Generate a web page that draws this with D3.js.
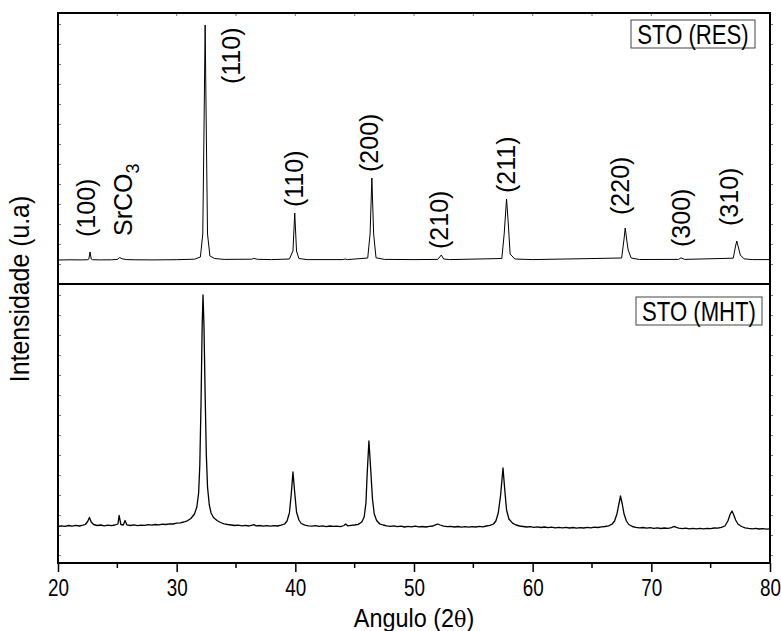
<!DOCTYPE html>
<html>
<head>
<meta charset="utf-8">
<script src="https://cdn.jsdelivr.net/npm/d3@7"></script>
<style>
html,body{margin:0;padding:0;background:#fff;}
svg{display:block;}
</style>
</head>
<body>
<svg id="chart" width="781" height="631"></svg>
<script>
// ---------------- DATA ----------------
const xTicks = [20, 30, 40, 50, 60, 70, 80];
const xMinorTicks = [25, 35, 45, 55, 65, 75];

// STO (RES) pattern: 2theta and intensity (a.u.)
const resAngle = [20.0,21.0,22.0,22.5,22.6,22.7,22.8,22.9,23.5,24.5,25.0,25.2,25.4,25.8,26.5,28.0,30.0,31.5,32.0,32.2,32.3,32.4,32.5,32.6,32.8,33.2,34.0,36.3,36.5,36.8,38.0,39.5,39.8,39.95,40.1,40.3,41.0,44.0,44.2,44.4,46.1,46.3,46.45,46.6,46.8,47.5,50.0,52.0,52.3,52.5,53.0,57.4,57.6,57.8,57.95,58.1,58.5,60.0,67.5,67.7,67.8,67.95,68.05,68.3,69.0,72.3,72.5,72.8,76.9,77.1,77.2,77.35,77.5,77.8,78.5,80.0];
const resIntensity = [240,242,241,243,250,320,250,243,241,242,246,265,252,244,242,241,243,248,270,500,1500,2590,1500,500,280,255,246,248,256,247,244,250,330,710,330,255,244,244,250,244,260,500,1060,500,262,246,244,246,290,250,244,255,500,850,600,300,250,244,260,450,560,420,340,260,245,246,262,246,258,380,430,360,290,252,244,244];

// STO (MHT) pattern: 2theta and intensity (a.u.)
const mhtAngle = [20.0,20.3,20.6,20.9,21.2,21.5,21.8,22.1,22.3,22.5,22.65,22.8,23.0,23.3,23.6,23.9,24.2,24.5,24.8,25.05,25.15,25.3,25.5,25.65,25.8,26.1,26.4,26.7,27.0,27.3,27.6,27.9,28.2,28.5,28.8,29.1,29.4,29.7,30.0,30.3,30.6,30.9,31.2,31.5,31.7,31.85,31.95,32.05,32.15,32.22,32.3,32.4,32.5,32.6,32.75,32.9,33.1,33.4,33.7,34.0,34.3,34.6,34.9,35.2,35.5,35.8,36.1,36.3,36.5,36.7,37.0,37.3,37.6,37.9,38.2,38.5,38.8,39.1,39.3,39.5,39.65,39.8,39.95,40.1,40.3,40.5,40.8,41.1,41.4,41.7,42.0,42.3,42.6,42.9,43.2,43.5,43.8,44.1,44.25,44.4,44.7,45.0,45.3,45.6,45.8,45.95,46.05,46.2,46.35,46.5,46.65,46.85,47.1,47.4,47.7,48.0,48.3,48.6,48.9,49.2,49.5,49.8,50.1,50.4,50.7,51.0,51.3,51.6,51.8,52.0,52.2,52.5,52.8,53.1,53.4,53.7,54.0,54.3,54.6,54.9,55.2,55.5,55.8,56.1,56.4,56.7,56.9,57.1,57.3,57.5,57.65,57.8,58.0,58.3,58.6,58.9,59.2,59.5,59.8,60.1,60.4,60.7,61.0,61.3,61.6,61.9,62.2,62.5,62.8,63.1,63.4,63.7,64.0,64.3,64.6,64.9,65.2,65.5,65.8,66.1,66.4,66.7,66.9,67.1,67.25,67.4,67.55,67.7,67.9,68.1,68.4,68.7,69.0,69.3,69.6,69.9,70.2,70.5,70.8,71.1,71.4,71.7,71.9,72.05,72.3,72.6,72.9,73.2,73.5,73.8,74.1,74.4,74.7,75.0,75.3,75.6,75.9,76.2,76.45,76.65,76.8,76.95,77.1,77.3,77.6,77.9,78.2,78.5,78.8,79.1,79.4,79.7,80.0];
const mhtIntensity = [285,292,287,295,289,296,290,298,305,335,375,330,305,295,300,292,298,293,300,310,395,305,300,345,302,295,301,294,299,296,303,298,305,301,309,305,312,310,318,322,330,342,365,410,480,620,900,1500,2300,2600,2300,1600,1000,680,500,420,375,345,325,312,305,300,295,298,292,296,290,297,303,292,295,289,293,288,294,290,298,310,340,420,600,830,620,430,350,315,298,292,288,294,286,291,284,290,286,289,284,295,310,292,297,300,306,330,380,520,800,1140,860,560,410,345,312,300,292,287,291,283,288,280,286,282,289,281,285,280,287,290,302,310,300,288,283,287,280,285,279,284,278,283,280,286,282,290,296,310,340,420,600,870,650,450,360,318,300,290,285,280,284,277,282,275,280,273,278,272,277,271,276,270,275,269,274,270,276,271,278,275,282,285,292,310,340,410,500,590,510,410,340,305,285,276,271,275,268,273,266,271,265,270,267,273,285,280,268,263,268,261,266,262,267,261,266,263,270,268,276,290,340,410,440,400,350,310,285,272,266,262,267,260,264,259,262];

// peak annotations: text, 2theta of label centre, pixel-free intensity-like position handled below
const resLabels = [
  {text: "(100)", angle: 22.44, y: 237},
  {text: "SrCO", sub: "3", angle: 25.6, y: 236},
  {text: "(110)", angle: 34.65, y: 84},
  {text: "(110)", angle: 39.95, y: 207},
  {text: "(200)", angle: 46.26, y: 172},
  {text: "(210)", angle: 52.15, y: 249},
  {text: "(211)", angle: 57.87, y: 193},
  {text: "(220)", angle: 67.47, y: 215},
  {text: "(300)", angle: 72.6, y: 247},
  {text: "(310)", angle: 76.65, y: 226}
];
const seriesNames = ["STO (RES)", "STO (MHT)"];
const xTitle = ["Angulo (2", "θ", ")"];
const yTitle = "Intensidade (u.a)";

// ---------------- LAYOUT ----------------
const L = 58, R = 770, T = 13, MID = 284, B = 563;
const svg = d3.select("#chart");
const x = d3.scaleLinear().domain([20, 80]).range([L, R]);
const yTop = d3.scaleLinear().domain([0, 2710]).range([MID, T]);
const yBot = d3.scaleLinear().domain([-80, 2710]).range([B, MID]);

const font = "'Liberation Sans', Arial, Helvetica, sans-serif";

// data lines
function drawSeries(ang, inten, y, w) {
  const pts = ang.map((a, i) => [a, inten[i]]);
  svg.append("path")
    .datum(pts)
    .attr("fill", "none")
    .attr("stroke", "#000")
    .attr("stroke-width", w)
    .attr("stroke-linejoin", "round")
    .attr("d", d3.line().x(d => x(d[0])).y(d => y(d[1])));
}
drawSeries(resAngle, resIntensity, yTop, 1);
drawSeries(mhtAngle, mhtIntensity, yBot, 1.3);

// small frame ticks
const tickCol = "#777";
svg.append("g").selectAll("line").data(xTicks.concat(xMinorTicks)).join("line")
  .attr("x1", d => x(d)).attr("x2", d => x(d))
  .attr("y1", T).attr("y2", T + 3)
  .attr("stroke", tickCol).attr("stroke-width", 1);
[[yTop, yTop.ticks(14)], [yBot, yBot.ticks(14)]].forEach(([y, tv]) => {
  const v = tv.filter(d => y(d) < y.range()[0] - 2 && y(d) > y.range()[1] + 2);
  svg.append("g").selectAll("line").data(v).join("line")
    .attr("x1", L).attr("x2", L + 3)
    .attr("y1", d => Math.round(y(d)) + 0.5).attr("y2", d => Math.round(y(d)) + 0.5)
    .attr("stroke", tickCol).attr("stroke-width", 1);
  svg.append("g").selectAll("line").data(v).join("line")
    .attr("x1", R).attr("x2", R + 3)
    .attr("y1", d => Math.round(y(d)) + 0.5).attr("y2", d => Math.round(y(d)) + 0.5)
    .attr("stroke", tickCol).attr("stroke-width", 1);
});

// frame
svg.append("rect").attr("x", L).attr("y", T).attr("width", R - L).attr("height", B - T)
  .attr("fill", "none").attr("stroke", "#000").attr("stroke-width", 2);
svg.append("line").attr("x1", L).attr("x2", R).attr("y1", MID).attr("y2", MID)
  .attr("stroke", "#000").attr("stroke-width", 2);

// bottom axis
const xAxis = svg.append("g").attr("transform", `translate(0,${B})`)
  .call(d3.axisBottom(x).tickValues(xTicks).tickSize(9).tickPadding(8).tickFormat(d3.format("d")));
xAxis.select(".domain").remove();
xAxis.selectAll(".tick line").attr("stroke", "#000").attr("stroke-width", 1.5);
xAxis.selectAll(".tick text")
  .attr("font-family", font).attr("font-size", 23).attr("fill", "#000")
  .attr("transform", "scale(0.82,1)")
  .attr("x", 0);
svg.append("g").selectAll("line").data(xMinorTicks).join("line")
  .attr("x1", d => x(d)).attr("x2", d => x(d))
  .attr("y1", B).attr("y2", B + 5)
  .attr("stroke", "#000").attr("stroke-width", 1.5);

// axis titles
const xt = svg.append("text")
  .attr("transform", `translate(${(L + R) / 2},627) scale(0.9,1)`)
  .attr("text-anchor", "middle").attr("font-family", font).attr("font-size", 26);
xt.append("tspan").text(xTitle[0]);
xt.append("tspan").attr("font-family", "'DejaVu Serif', 'Liberation Serif', serif").attr("font-size", 23).text(xTitle[1]);
xt.append("tspan").text(xTitle[2]);

svg.append("text")
  .attr("transform", `translate(29,${(T + B) / 2 + 1}) rotate(-90) scale(0.92,1)`)
  .attr("text-anchor", "middle")
  .attr("font-family", font).attr("font-size", 27).text(yTitle);

// legend boxes
function legendBox(label, x0, y0, w, h) {
  svg.append("rect").attr("x", x0).attr("y", y0).attr("width", w).attr("height", h)
    .attr("fill", "#fff").attr("stroke", "#444").attr("stroke-width", 1);
  svg.append("text")
    .attr("transform", `translate(${x0 + w / 2},${y0 + h - 4}) scale(0.82,1)`)
    .attr("text-anchor", "middle").attr("font-family", font).attr("font-size", 27).text(label);
}
legendBox(seriesNames[0], 631, 20, 124, 28);
legendBox(seriesNames[1], 636, 297, 126, 28);

// peak labels (rotated)
resLabels.forEach(l => {
  const t = svg.append("text")
    .attr("transform", `translate(${x(l.angle) + 8},${l.y}) rotate(-90)`)
    .attr("font-family", font).attr("font-size", 25).attr("fill", "#000");
  t.append("tspan").text(l.text);
  if (l.sub) t.append("tspan").attr("font-size", 18).attr("dy", 7).text(l.sub);
});
</script>
</body>
</html>
